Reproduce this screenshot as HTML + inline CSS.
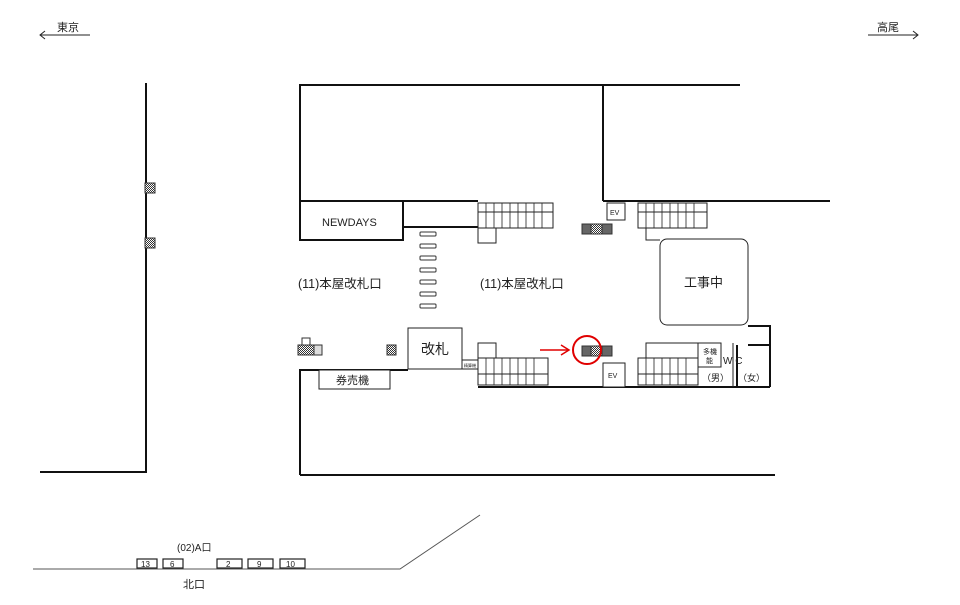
<!DOCTYPE html>
<html><head><meta charset="utf-8"><style>
html,body{margin:0;padding:0;background:#fff}
svg{display:block}
text{font-family:"Liberation Sans","Noto Sans CJK JP",sans-serif;fill:#222}
</style></head><body>
<svg width="960" height="605" viewBox="0 0 960 605" xmlns="http://www.w3.org/2000/svg">
<defs>
<pattern id="hat" width="2" height="2" patternUnits="userSpaceOnUse"><rect width="2" height="2" fill="#fff"/><rect width="1" height="1" fill="#333"/><rect x="1" y="1" width="1" height="1" fill="#333"/></pattern>
</defs>
<g stroke="#222" fill="none" stroke-width="1">
<line x1="40" y1="35" x2="90" y2="35"/><polyline points="45,31 40,35 45,39"/>
<line x1="868" y1="35" x2="918" y2="35"/><polyline points="913,31 918,35 913,39"/>
</g>
<text x="57" y="31" font-size="11">東京</text>
<text x="877" y="31" font-size="11">高尾</text>

<g stroke="#111" fill="none" stroke-width="2">
<polyline points="146,83 146,472 40,472"/>
<polyline points="300,240 300,85 740,85"/>
<line x1="603" y1="85" x2="603" y2="201"/>
<line x1="300" y1="201" x2="478" y2="201"/>
<line x1="603" y1="201" x2="830" y2="201"/>
<rect x="300" y="201" width="103" height="39"/>
<line x1="403" y1="227" x2="478" y2="227"/>
<polyline points="300,475 300,370 408,370"/>
<line x1="300" y1="475" x2="775" y2="475"/>
<line x1="478" y1="387" x2="770" y2="387"/>
<polyline points="748,326 770,326 770,387"/>
<line x1="737" y1="345" x2="737" y2="387"/>
<line x1="748" y1="345" x2="770" y2="345"/>
</g>
<g stroke="#222" fill="#fff" stroke-width="1">
<rect x="478" y="203" width="75" height="9"/>
<rect x="478" y="212" width="75" height="16"/>
<rect x="478" y="228" width="18" height="15"/>
<rect x="638" y="203" width="69" height="9"/>
<rect x="638" y="212" width="69" height="16"/>
<polyline points="646,228 646,240 660,240" fill="none"/>
<rect x="478" y="343" width="18" height="15"/>
<rect x="478" y="358" width="70" height="16"/>
<rect x="478" y="374" width="70" height="11"/>
<rect x="646" y="343" width="52" height="15"/>
<rect x="638" y="358" width="60" height="16"/>
<rect x="638" y="374" width="60" height="11"/>
<rect x="607" y="203" width="18" height="17"/>
<rect x="603" y="363" width="22" height="24"/>
<rect x="660" y="239" width="88" height="86" rx="7"/>
<rect x="698" y="343" width="23" height="24"/>
<line x1="733" y1="343" x2="733" y2="387"/>
<rect x="408" y="328" width="54" height="41"/>
<rect x="319" y="370" width="71" height="19"/>
<rect x="462" y="360" width="16" height="9"/>
</g>
<g stroke="#222" stroke-width="0.8">
<path d="M486,203v25M494,203v25M502,203v25M510,203v25M518,203v25M526,203v25M534,203v25M542,203v25"/>
<path d="M646,203v25M654,203v25M662,203v25M670,203v25M678,203v25M686,203v25M694,203v25"/>
<path d="M486,358v27M494,358v27M502,358v27M510,358v27M518,358v27M526,358v27M534,358v27"/>
<path d="M646,358v27M654,358v27M662,358v27M670,358v27M678,358v27M686,358v27"/>
</g>
<g stroke="#333" fill="#fff" stroke-width="1">
<rect x="420" y="232" width="16" height="4" rx="1"/><rect x="420" y="244" width="16" height="4" rx="1"/>
<rect x="420" y="256" width="16" height="4" rx="1"/><rect x="420" y="268" width="16" height="4" rx="1"/>
<rect x="420" y="280" width="16" height="4" rx="1"/><rect x="420" y="292" width="16" height="4" rx="1"/>
<rect x="420" y="304" width="16" height="4" rx="1"/>
</g>
<g stroke="#333" stroke-width="1">
<rect x="145" y="183" width="10" height="10" fill="url(#hat)"/>
<rect x="145" y="238" width="10" height="10" fill="url(#hat)"/>
<rect x="298" y="345" width="16" height="10" fill="url(#hat)"/>
<rect x="302" y="338" width="8" height="7" fill="#fff"/>
<rect x="314" y="345" width="8" height="10" fill="#ddd"/>
<rect x="387" y="345" width="9" height="10" fill="url(#hat)"/>
<rect x="582" y="224" width="30" height="10" fill="#666"/>
<rect x="591" y="224" width="11" height="10" fill="url(#hat)"/>
<rect x="582" y="346" width="30" height="10" fill="#666"/>
<rect x="591" y="346" width="11" height="10" fill="url(#hat)"/>
</g>
<circle cx="587" cy="350" r="14" stroke="#e00000" stroke-width="2" fill="none"/>
<line x1="540" y1="350" x2="568" y2="350" stroke="#e00000" stroke-width="1.5"/>
<polyline points="561,345 569,350 561,355" stroke="#e00000" stroke-width="1.5" fill="none"/>

<text x="322" y="226" font-size="11">NEWDAYS</text>
<text x="298" y="288" font-size="12.5">(11)本屋改札口</text>
<text x="480" y="288" font-size="12.5">(11)本屋改札口</text>
<text x="421" y="354" font-size="14">改札</text>
<text x="336" y="384" font-size="11">券売機</text>
<text x="684" y="287" font-size="13">工事中</text>
<text x="610" y="215" font-size="7">EV</text>
<text x="608" y="378" font-size="7">EV</text>
<text x="703" y="354" font-size="7">多機</text>
<text x="706" y="363" font-size="7">能</text>
<text x="723" y="364" font-size="10">W C</text>
<text x="702" y="381" font-size="9">（男）</text>
<text x="738" y="381" font-size="9">（女）</text>
<text x="464" y="367" font-size="4">精算機</text>

<g stroke="#555" fill="none" stroke-width="1">
<polyline points="33,569 400,569 480,515"/>
</g>
<g stroke="#222" fill="#fff" stroke-width="1.2">
<rect x="137" y="559" width="20" height="9"/><rect x="163" y="559" width="20" height="9"/>
<rect x="217" y="559" width="25" height="9"/><rect x="248" y="559" width="25" height="9"/><rect x="280" y="559" width="25" height="9"/>
</g>
<g font-size="8">
<text x="141" y="567">13</text><text x="170" y="567">6</text><text x="226" y="567">2</text><text x="257" y="567">9</text><text x="286" y="567">10</text>
</g>
<text x="177" y="551" font-size="10">(02)A口</text>
<text x="183" y="588" font-size="11">北口</text>
</svg>
</body></html>
